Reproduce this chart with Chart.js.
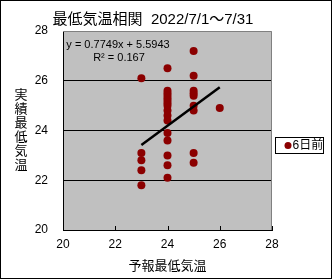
<!DOCTYPE html>
<html>
<head>
<meta charset="utf-8">
<script src="https://cdn.jsdelivr.net/npm/chart.js@4"></script>
<style>
  body { margin: 0; background: #fff; }
  canvas { display: block; }
</style>
</head>
<body>
<canvas id="graficoCorrelacion" width="332" height="279"></canvas>
<script>
// Textos
const chartTitle = '最低気温相関  2022/7/1～7/31';
const xAxisTitle = '予報最低気温';
const yAxisTitle = '実績最低気温';
const seriesName = '6日前';
const trendEquation = 'y = 0.7749x + 5.5943';
const trendR2 = 'R² = 0.167';

// Ejes
const xTicks = [20, 22, 24, 26, 28];
const yTicks = [20, 22, 24, 26, 28];

const forecastTemp = [23, 23, 23, 23, 23,
    24, 24, 24, 24, 24, 24, 24, 24, 24, 24, 24, 24, 24, 24, 24, 24,
    25, 25, 25, 25, 25, 25, 25, 25, 25,
    26];
const actualTemp = [26.1, 23.1, 22.8, 22.4, 21.8,
    26.5, 25.6, 25.5, 25.4, 25.3, 25.2, 25.1, 25.0, 24.8, 24.6, 24.4, 23.9, 23.6, 23.0, 22.6, 22.1,
    27.2, 26.2, 25.6, 25.5, 25.4, 25.0, 24.8, 23.1, 22.7,
    24.9];

// Línea de tendencia (extremos)
const trendX = [23, 26];
const trendY = [23.42, 25.74];

const FONT = "'Liberation Sans', 'Noto Sans CJK JP', sans-serif";
const POINT_COLOR = '#8b0000';

const decoraciones = {
    id: 'decoraciones',
    beforeDraw(chart) {
        const { ctx, chartArea: a } = chart;
        ctx.save();
        ctx.fillStyle = '#ffffff';
        ctx.fillRect(0, 0, chart.width, chart.height);
        ctx.fillStyle = '#c0c0c0';
        ctx.fillRect(a.left, a.top, a.right - a.left, a.bottom - a.top);
        ctx.restore();
    },
    afterDraw(chart) {
        const { ctx, chartArea: a } = chart;
        const x = chart.scales.x;
        ctx.save();

        // borde gris superior y derecho del área
        ctx.strokeStyle = '#808080';
        ctx.lineWidth = 1;
        ctx.beginPath();
        ctx.moveTo(a.left, a.top + 0.5);
        ctx.lineTo(a.right - 0.5, a.top + 0.5);
        ctx.lineTo(a.right - 0.5, a.bottom);
        ctx.stroke();

        // marcas del eje X hacia dentro
        ctx.strokeStyle = '#000';
        ctx.beginPath();
        xTicks.forEach(v => {
            const px = Math.round(x.getPixelForValue(v)) + 0.5;
            ctx.moveTo(px, a.bottom);
            ctx.lineTo(px, a.bottom - 4);
        });
        ctx.stroke();

        // título
        ctx.fillStyle = '#000';
        ctx.font = '15px ' + FONT;
        ctx.textAlign = 'center';
        ctx.textBaseline = 'middle';
        ctx.fillText(chartTitle, 153, 20);

        // título eje Y (vertical, caracteres apilados)
        ctx.font = '13px ' + FONT;
        const chars = Array.from(yAxisTitle);
        const yMid = (a.top + a.bottom) / 2;
        chars.forEach((c, i) => {
            ctx.fillText(c, 21, yMid + (i - (chars.length - 1) / 2) * 14);
        });

        // ecuación de la tendencia
        ctx.font = '11px ' + FONT;
        ctx.fillText(trendEquation, 118, 45);
        ctx.fillText(trendR2, 119, 58);

        // leyenda
        ctx.fillStyle = '#fff';
        ctx.fillRect(275.5, 137.5, 48, 16);
        ctx.strokeStyle = '#000';
        ctx.strokeRect(275.5, 137.5, 48, 16);
        ctx.fillStyle = POINT_COLOR;
        ctx.beginPath();
        ctx.arc(288, 145.5, 3.5, 0, Math.PI * 2);
        ctx.fill();
        ctx.fillStyle = '#000';
        ctx.font = '12px ' + FONT;
        ctx.textAlign = 'left';
        ctx.fillText(chart.data.datasets[1].label, 292.5, 146);

        // marco exterior
        ctx.strokeRect(0.5, 0.5, chart.width - 1, chart.height - 1);
        ctx.restore();
    }
};

const puntos = forecastTemp.map((v, i) => ({ x: v, y: actualTemp[i] }));
const tendencia = trendX.map((v, i) => ({ x: v, y: trendY[i] }));

new Chart(document.getElementById('graficoCorrelacion'), {
    type: 'scatter',
    data: {
        datasets: [{
            type: 'line',
            label: 'tendencia',
            data: tendencia,
            borderColor: '#000',
            borderWidth: 2.5,
            pointRadius: 0,
            fill: false,
            order: 0
        }, {
            label: seriesName,
            data: puntos,
            backgroundColor: POINT_COLOR,
            borderWidth: 0,
            pointRadius: 4,
            pointHoverRadius: 4,
            order: 1
        }]
    },
    options: {
        responsive: false,
        animation: false,
        events: [],
        layout: { padding: { top: 31, right: 60, bottom: 0, left: 0 } },
        plugins: {
            legend: { display: false },
            title: { display: false },
            tooltip: { enabled: false }
        },
        scales: {
            x: {
                type: 'linear',
                min: 20,
                max: 28,
                afterBuildTicks: s => { s.ticks = xTicks.map(v => ({ value: v })); },
                afterFit: s => { s.height = 49; },
                grid: { display: false, drawTicks: false },
                border: { color: '#000', width: 1 },
                ticks: { color: '#000', padding: 7, font: { family: FONT, size: 12 } },
                title: {
                    display: true,
                    text: xAxisTitle,
                    color: '#000',
                    font: { family: FONT, size: 13 },
                    padding: { top: 0, bottom: 5 }
                }
            },
            y: {
                type: 'linear',
                min: 20,
                max: 28,
                afterBuildTicks: s => { s.ticks = yTicks.map(v => ({ value: v })); },
                afterFit: s => { s.width = 63; },
                grid: {
                    drawTicks: false,
                    color: c => (c.tick && (c.tick.value === 20 || c.tick.value === 28)) ? 'rgba(0,0,0,0)' : '#000',
                    lineWidth: 1
                },
                border: { color: '#000', width: 1 },
                ticks: { color: '#000', padding: 15, font: { family: FONT, size: 12 } }
            }
        }
    },
    plugins: [decoraciones]
});
</script>
</body>
</html>
